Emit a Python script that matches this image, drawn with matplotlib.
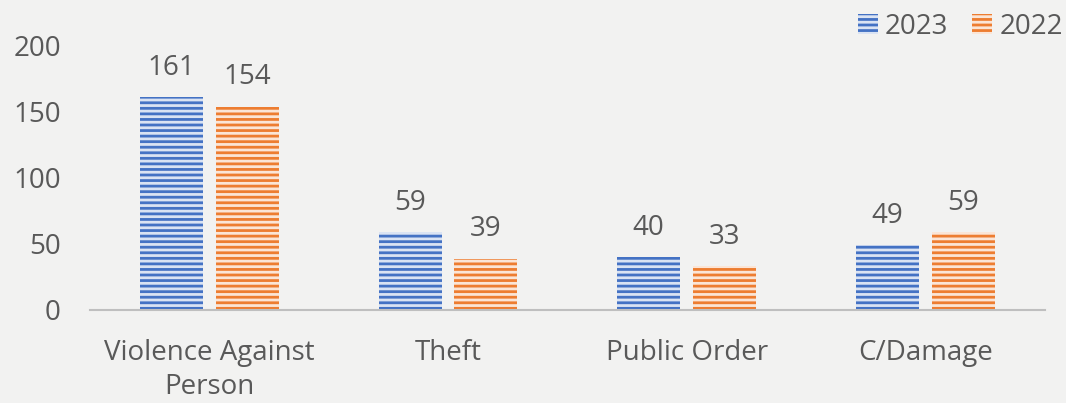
import numpy as np
import matplotlib
matplotlib.use("Agg")
import matplotlib.pyplot as plt

categories = ["Violence Against\nPerson", "Theft", "Public Order", "C/Damage"]
values_2023 = [161, 59, 40, 49]
values_2022 = [154, 39, 33, 59]
series_names = ["2023", "2022"]

plt.rcParams['font.family'] = ['Open Sans', 'DejaVu Sans']
plt.rcParams['hatch.linewidth'] = 2.0

bg = '#f2f2f1'
text_col = '#595959'
blue, blue_light = '#4472c4', '#dae3f3'
orange, orange_light = '#ed7d31', '#fbe5d6'

fig = plt.figure(figsize=(10.66, 4.03), dpi=100, facecolor=bg)
ax = fig.add_axes([0.0844, 0.2308, 0.8956, 0.6551], facecolor=bg)

x = np.arange(len(categories))
w = 0.264
off = 0.159
b1 = ax.bar(x - off, values_2023, w, color=blue_light, edgecolor=blue,
            linewidth=0, hatch='---', label=series_names[0])
b2 = ax.bar(x + off, values_2022, w, color=orange_light, edgecolor=orange,
            linewidth=0, hatch='---', label=series_names[1])

for bars in (b1, b2):
    for rect in bars:
        h = rect.get_height()
        ax.annotate(f"{h:.0f}", (rect.get_x() + rect.get_width() / 2, h),
                    xytext=(0, 11), textcoords='offset points',
                    ha='center', va='bottom', fontsize=20, color=text_col)

ax.set_xlim(-0.5, len(categories) - 0.5)
ax.set_ylim(0, 200)
ax.set_yticks([0, 50, 100, 150, 200])
ax.set_xticks(x)
ax.set_xticklabels(categories, fontsize=20, color=text_col, linespacing=1.3)
ax.tick_params(axis='y', length=0, labelsize=20, labelcolor=text_col, pad=21)
ax.tick_params(axis='x', length=0, pad=21)
for s in ['top', 'right', 'left']:
    ax.spines[s].set_visible(False)
ax.spines['bottom'].set_color('#bfbfbf')
ax.spines['bottom'].set_linewidth(1.5)

leg = ax.legend(loc='upper right', bbox_to_anchor=(1.045, 1.22), ncol=2,
                frameon=False, fontsize=20, labelcolor=text_col,
                handlelength=0.72, handleheight=0.75, handletextpad=0.25,
                columnspacing=0.86)

fig.savefig("out.png", dpi=100, facecolor=bg)
